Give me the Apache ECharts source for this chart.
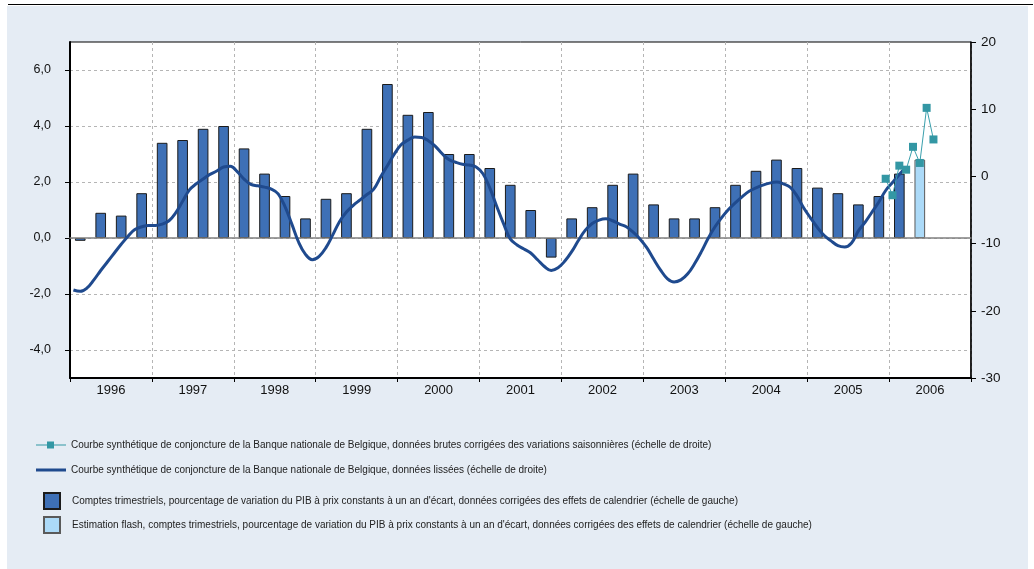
<!DOCTYPE html>
<html><head><meta charset="utf-8">
<script src="https://cdn.jsdelivr.net/npm/echarts@6/dist/echarts.min.js"></script>
<style>
html,body{margin:0;padding:0;background:#fff;width:1034px;height:569px;overflow:hidden;}
#panel{position:absolute;left:7px;top:6px;width:1021px;height:563px;background:#e5ecf4;}
#topline{position:absolute;left:8px;top:4px;width:1025px;height:1px;background:#000;}
#chart{position:absolute;left:0;top:0;width:1034px;height:569px;}
</style></head><body>
<div id="panel"></div><div id="topline"></div><div id="chart"></div>
<script>
// ---- data ----
const years = ['1996','1997','1998','1999','2000','2001','2002','2003','2004','2005','2006'];
const quarterNames = ['T1','T2','T3','T4'];
// Quarterly GDP growth y-o-y (%), 1996 T1 .. 2006 T1 (left scale)
const gdpQuarterly = [
  -0.1, 0.9, 0.8, 1.6,
   3.4, 3.5, 3.9, 4.0,
   3.2, 2.3, 1.5, 0.7,
   1.4, 1.6, 3.9, 5.5,
   4.4, 4.5, 3.0, 3.0,
   2.5, 1.9, 1.0, -0.7,
   0.7, 1.1, 1.9, 2.3,
   1.2, 0.7, 0.7, 1.1,
   1.9, 2.4, 2.8, 2.5,
   1.8, 1.6, 1.2, 1.5,
   2.3
];
// Flash estimate, 2006 T2 (left scale)
const gdpFlash = [2.8];
// NBB business barometer, smoothed, monthly from Jan 1996 (right scale)
const barometerSmoothed = [
  -16.9,-17.1,-16.6,-15.4,-14.0,-12.7,-11.4,-10.1, -8.9, -7.9, -7.5, -7.3,
   -7.3, -7.1, -6.6, -5.4, -3.7, -2.0, -1.1, -0.4,  0.3,  0.8,  1.4,  1.5,
    0.7, -0.4, -1.2, -1.4, -1.6, -1.9, -2.6, -4.5, -7.1, -9.8,-11.6,-12.4,
  -11.9,-10.6, -8.7, -6.7, -5.3, -4.3, -3.5, -2.7, -1.9, -0.1,  1.6,  3.3,
    4.7,  5.4,  5.85, 5.8,  5.3,  4.5,  3.4,  2.5,  2.1,  1.8,  1.7,  1.4,
    0.4, -1.7, -4.4, -7.0, -9.3,-10.2,-10.8,-11.4,-12.4,-13.4,-14.0,-13.6,
  -12.6,-11.2, -9.5, -8.0, -7.0, -6.5, -6.3, -6.6, -7.1, -7.5, -8.3, -9.3,
  -10.6,-12.3,-13.9,-15.2,-15.7,-15.4,-14.5,-13.0,-11.2, -9.2, -7.5, -6.1,
   -4.9, -3.9, -3.0, -2.2, -1.7, -1.3, -1.0, -0.85,-1.1, -1.6, -2.9, -4.7,
   -6.2, -7.6, -8.8, -9.6,-10.3,-10.5, -9.9, -8.1, -6.8, -5.3, -3.8, -2.1,
   -0.9,  0.3,  1.4
];
// NBB business barometer, raw seasonally adjusted, monthly from Dec 2005 (right scale)
const barometerRawStart = 119; // month index from Jan 1996
const barometerRaw = [-0.35, -2.8, 1.6, 1.0, 4.4, 2.0, 10.2, 5.5];
const leftTicks = [-4, -2, 0, 2, 4, 6];

const names = [
  'Courbe synthétique de conjoncture de la Banque nationale de Belgique, données brutes corrigées des variations saisonnières (échelle de droite)',
  'Courbe synthétique de conjoncture de la Banque nationale de Belgique, données lissées (échelle de droite)',
  'Comptes trimestriels, pourcentage de variation du PIB à prix constants à un an d\'écart, données corrigées des effets de calendrier (échelle de gauche)',
  'Estimation flash, comptes trimestriels, pourcentage de variation du PIB à prix constants à un an d\'écart, données corrigées des effets de calendrier (échelle de gauche)'
];

// ---- derived ----
const quarters = [];
years.forEach(y => quarterNames.forEach(q => quarters.push(y + ' ' + q)));
const barData = quarters.map((_, i) => i < gdpQuarterly.length ? gdpQuarterly[i] : null);
const flashData = quarters.map((_, i) => {
  const k = i - gdpQuarterly.length;
  return (k >= 0 && k < gdpFlash.length) ? gdpFlash[k] : null;
});
const smoothPts = barometerSmoothed.map((v, i) => [i + 0.5, v]);
const rawPts = barometerRaw.map((v, i) => [barometerRawStart + i + 0.5, v]);
const nMonths = years.length * 12;

const FONT = '"Liberation Sans", Arial, sans-serif';
const legendSpecs = [
  {left: 36, top: 440, w: 30, pad: 0, icon: 'path://M0,3H11V0H18V3H30V4H18V7H11V4H0Z', itemStyle: {color: '#3397a4', borderWidth: 0}},
  {left: 36, top: 465, w: 30, pad: 0, icon: 'path://M0,0H30V3H0Z', itemStyle: {color: '#1f4a8e', borderWidth: 0}},
  {left: 43, top: 492, w: 16, pad: 7, icon: 'path://M0,0H16V16H0Z'},
  {left: 43, top: 516, w: 16, pad: 7, icon: 'path://M0,0H16V16H0Z'}
];
const legends = names.map((n, i) => {
  const s = legendSpecs[i];
  const item = {name: n, icon: s.icon};
  if (s.itemStyle) item.itemStyle = s.itemStyle;
  return {
    orient: 'vertical', left: s.left, top: s.top, padding: 0,
    itemWidth: s.w, itemHeight: 16, itemGap: 0, symbolKeepAspect: true,
    textStyle: {fontSize: 10, color: '#222', fontFamily: FONT, padding: [0, 0, 0, s.pad]},
    data: [item]
  };
});

const chart = echarts.init(document.getElementById('chart'), null, {renderer: 'canvas'});
chart.setOption({
  animation: false,
  backgroundColor: 'transparent',
  textStyle: {fontFamily: FONT},
  grid: {left: 70, top: 42, width: 901, height: 336, show: true, backgroundColor: '#fff', borderColor: '#000', borderWidth: 1, containLabel: false},
  legend: legends,
  xAxis: [
    {type: 'category', data: quarters, gridIndex: 0, position: 'bottom',
     axisLine: {show: true, onZero: true, onZeroAxisIndex: 0, lineStyle: {color: '#808080', width: 1.5}},
     axisTick: {show: false}, axisLabel: {show: false}, splitLine: {show: false}, z: 3},
    {type: 'category', data: years, gridIndex: 0, position: 'bottom', boundaryGap: true,
     axisLine: {show: true, onZero: false, lineStyle: {color: '#000', width: 2}},
     axisTick: {show: true, interval: 0, length: 4, lineStyle: {color: '#000', width: 1}},
     axisLabel: {show: true, interval: 0, fontSize: 13, color: '#111', margin: 6},
     splitLine: {show: true, interval: 0, lineStyle: {color: '#b5b5b5', type: [3, 3], width: 1}}},
    {type: 'value', gridIndex: 0, position: 'top', min: 0, max: nMonths, show: false}
  ],
  yAxis: [
    {type: 'value', position: 'left', min: -5, max: 7,
     axisLine: {show: true, lineStyle: {color: '#000', width: 2}},
     axisTick: {show: true, length: 5, customValues: leftTicks, lineStyle: {color: '#000'}},
     axisLabel: {show: true, customValues: leftTicks, fontSize: 12.5, color: '#111', margin: 19,
                 formatter: v => v.toFixed(1).replace('.', ',')},
     splitLine: {show: true, lineStyle: {color: '#b5b5b5', type: [3, 3], width: 1}}},
    {type: 'value', position: 'right', min: -30, max: 20, interval: 10,
     axisLine: {show: true, lineStyle: {color: '#000', width: 1.5}},
     axisTick: {show: true, length: 5, lineStyle: {color: '#000'}},
     axisLabel: {show: true, fontSize: 13.5, color: '#111', margin: 10},
     splitLine: {show: false}}
  ],
  series: [
    {name: names[2], type: 'bar', xAxisIndex: 0, yAxisIndex: 0, data: barData,
     barWidth: '52%', barGap: '-100%',
     itemStyle: {color: '#3e70b6', borderColor: '#1b1b1b', borderWidth: 1}, z: 2},
    {name: names[3], type: 'bar', xAxisIndex: 0, yAxisIndex: 0, data: flashData,
     barWidth: '52%', barGap: '-100%',
     itemStyle: {color: '#acdaf8', borderColor: '#5a5a5a', borderWidth: 1}, z: 2},
    {name: names[1], type: 'line', xAxisIndex: 2, yAxisIndex: 1, data: smoothPts,
     smooth: 0.4, symbol: 'none', lineStyle: {color: '#1f4a8e', width: 3}, itemStyle: {color: '#1f4a8e'}, z: 4},
    {name: names[0], type: 'line', xAxisIndex: 2, yAxisIndex: 1, data: rawPts,
     symbol: 'rect', symbolSize: 8, lineStyle: {color: '#3aa0ad', width: 1},
     itemStyle: {color: '#3397a4'}, z: 5}
  ]
});
</script>
</body></html>
